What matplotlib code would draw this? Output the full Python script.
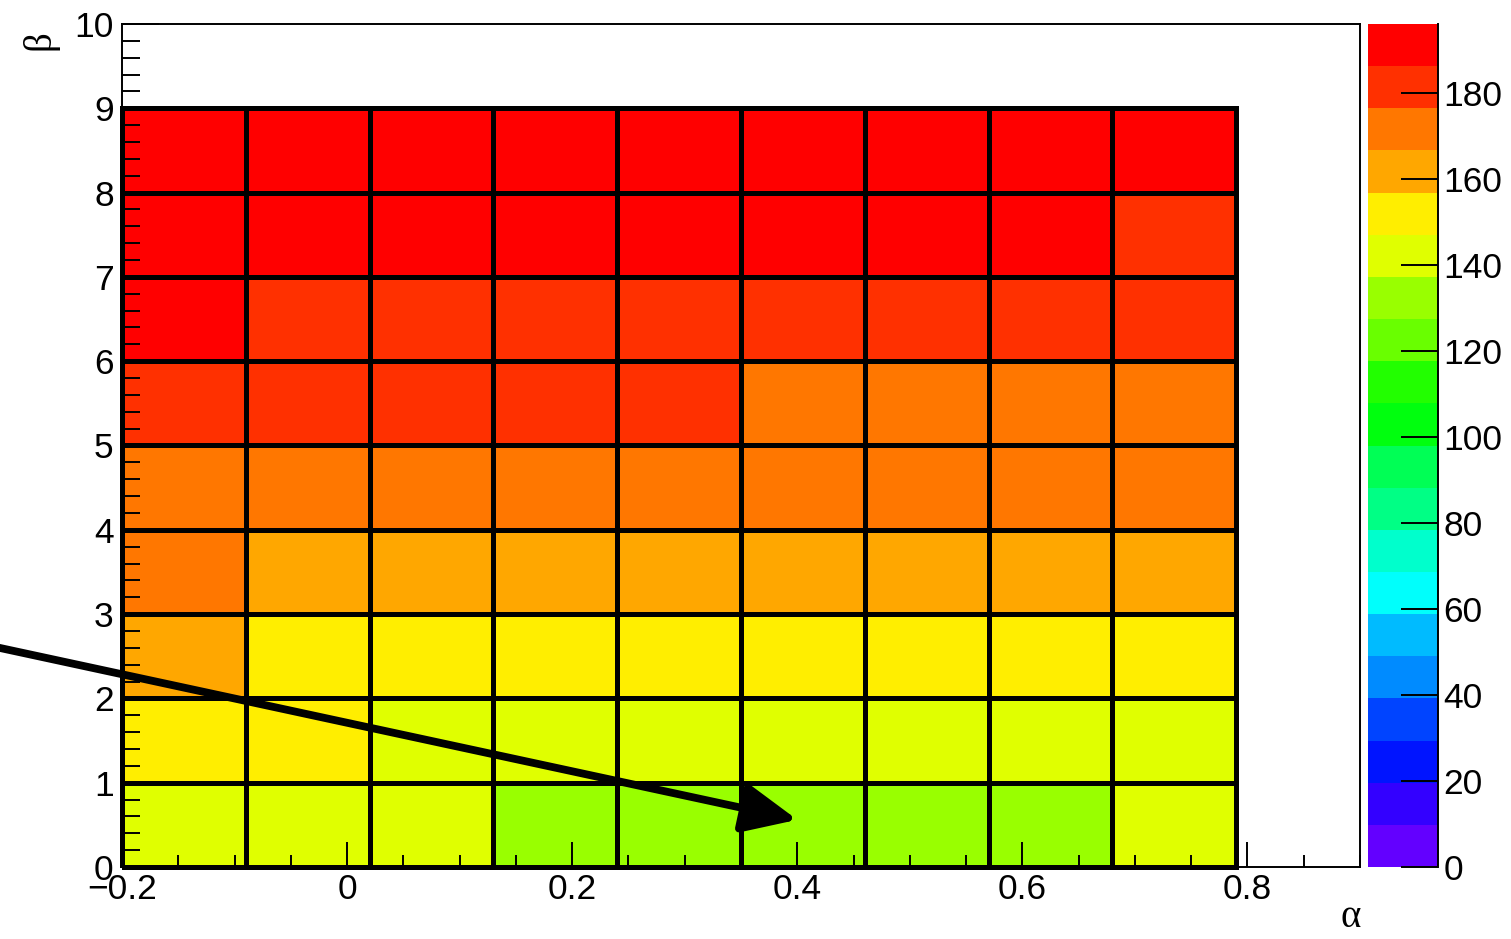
import colorsys
import numpy as np
import matplotlib
matplotlib.use("Agg")
import matplotlib.pyplot as plt
from matplotlib.colors import ListedColormap, BoundaryNorm
from matplotlib.ticker import MultipleLocator

# ---- data ----
alpha_edges = [-0.2, -0.09, 0.02, 0.13, 0.24, 0.35, 0.46, 0.57, 0.68, 0.79]
beta_edges = [0, 1, 2, 3, 4, 5, 6, 7, 8, 9]
# rows: beta bins from bottom (0-1) to top (8-9); columns: alpha bins left to right
z_row0 = [141, 140, 139, 133, 131, 130, 132, 134, 139]
z_row1 = [150, 148, 145, 143, 141, 140, 141, 142, 144]
z_row2 = [158, 154, 153, 151, 150, 149, 150, 151, 153]
z_row3 = [168, 164, 162, 161, 160, 159, 159, 160, 161]
z_row4 = [175, 173, 171, 170, 169, 168, 168, 169, 170]
z_row5 = [182, 180, 179, 178, 177, 175, 174, 174, 175]
z_row6 = [187, 185, 184, 183, 182, 181, 180, 180, 181]
z_row7 = [192, 191, 190, 189, 189, 188, 187, 187, 185]
z_row8 = [195, 195, 194, 193, 193, 192, 191, 191, 190]
x_ticks = [-0.2, 0, 0.2, 0.4, 0.6, 0.8]
y_ticks = [0, 1, 2, 3, 4, 5, 6, 7, 8, 9, 10]
z_ticks = [0, 20, 40, 60, 80, 100, 120, 140, 160, 180]
z_min, z_max, n_levels = 0.0, 196.0, 20
arrow_start = (-0.309, 2.60)
arrow_end = (0.400, 0.56)

Z = np.array([z_row0, z_row1, z_row2, z_row3, z_row4, z_row5, z_row6, z_row7, z_row8])

# ROOT "pretty" palette (hue 280 -> 0), sampled for 20 contours
pal = []
for i in range(50):
    hue = 280 - (i + 1) * (280.0 / 50)
    pal.append(colorsys.hls_to_rgb(hue / 360.0, 0.5, 1.0))
cols = [pal[int((k + 0.99) * 50 / n_levels)] for k in range(n_levels)]
cmap = ListedColormap(cols)
levels = np.linspace(z_min, z_max, n_levels + 1)
norm = BoundaryNorm(levels, cmap.N)

W, H = 1511, 939
fig = plt.figure(figsize=(W / 100, H / 100), dpi=100)
ax = fig.add_axes([122 / W, 72 / H, 1238 / W, 843 / H])
cax = fig.add_axes([1368 / W, 72 / H, 70 / W, 843 / H])

fs = 25.5
fam = ["Liberation Sans", "DejaVu Sans"]

mesh = ax.pcolormesh(alpha_edges, beta_edges, Z, cmap=cmap, norm=norm,
                     edgecolors="k", linewidth=3.6, clip_on=False)
ax.set_xlim(-0.2, 0.9)
ax.set_ylim(0, 10)

ax.set_xticks(x_ticks)
ax.set_xticklabels(["\u22120.2", "0", "0.2", "0.4", "0.6", "0.8"])
ax.set_yticks(y_ticks)
ax.xaxis.set_minor_locator(MultipleLocator(0.05))
ax.yaxis.set_minor_locator(MultipleLocator(0.2))
ax.tick_params(axis="x", which="major", direction="in", length=18, width=1.4,
               labelsize=fs, pad=4, top=False)
ax.tick_params(axis="x", which="minor", direction="in", length=9, width=1.4, top=False)
ax.tick_params(axis="y", which="major", direction="in", length=26.6, width=1.4,
               labelsize=fs, pad=6, right=False)
ax.tick_params(axis="y", which="minor", direction="in", length=13.3, width=1.4, right=False)
for lab in ax.get_xticklabels() + ax.get_yticklabels():
    lab.set_family(fam)
for sp in ax.spines.values():
    sp.set_linewidth(1.4)

cb = fig.colorbar(mesh, cax=cax)
cb.set_ticks(z_ticks)
cb.outline.set_visible(False)
cax.yaxis.set_ticks_position("right")
cax.tick_params(axis="y", which="major", direction="in", length=26.6, width=1.4,
                labelsize=fs, pad=4)
cax.minorticks_off()
for lab in cax.get_yticklabels():
    lab.set_family(fam)
cax.plot([1, 1], [0, 1], transform=cax.transAxes, color="k", lw=1.4, clip_on=False)

ax.annotate("", xy=arrow_end, xytext=arrow_start, xycoords="data", textcoords="data",
            annotation_clip=False,
            arrowprops=dict(arrowstyle="-|>,head_length=3.3,head_width=1.5",
                            mutation_scale=10, lw=5.6, color="k",
                            shrinkA=0, shrinkB=0, clip_on=False))

gfam = ["Liberation Serif", "DejaVu Serif"]
fig.text(1361 / W, 1 - 936 / H, "\u03b1", ha="right", va="bottom", fontsize=28, family=gfam)
fig.text(40 / W, 1 - 40 / H, "\u03b2", ha="center", va="center", rotation=90,
         fontsize=28, family=gfam)

fig.savefig("out.png", dpi=100)
